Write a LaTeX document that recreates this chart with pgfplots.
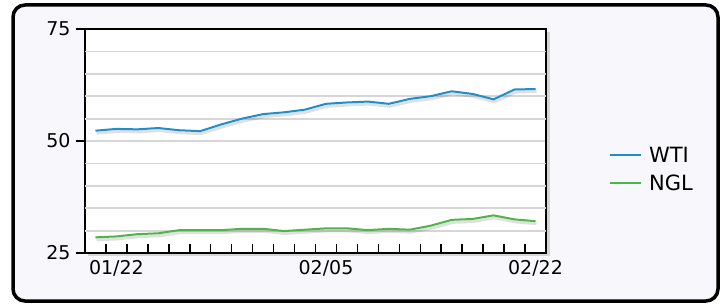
\documentclass[border=0pt]{standalone}
\usepackage{pgfplots}
\pgfplotsset{compat=1.18}
\usepackage{pgfplotstable}
\usepackage{fontspec}
\setmainfont{DejaVu Sans}
\definecolor{wti}{HTML}{1E8FCD}
\definecolor{ngl}{HTML}{4DB646}
\definecolor{bg}{HTML}{F8F8FC}
\definecolor{gridc}{HTML}{D6D6D6}
\pgfplotstableread{
k wti ngl
0 52.3 28.5
1 52.7 28.7
2 52.6 29.2
3 52.9 29.4
4 52.4 30.1
5 52.2 30.1
6 53.7 30.1
7 55.0 30.4
8 56.0 30.4
9 56.4 29.9
10 57.0 30.2
11 58.3 30.5
12 58.6 30.5
13 58.8 30.1
14 58.3 30.4
15 59.4 30.2
16 60.0 31.1
17 61.1 32.4
18 60.5 32.6
19 59.3 33.4
20 61.5 32.5
21 61.6 32.1
}\data
\begin{document}
\begin{tikzpicture}[x=1pt,y=1pt]
\useasboundingbox (0,0) rectangle (727,303);
\draw[line width=3.5pt, rounded corners=12pt, fill=bg] (13,2) rectangle (718,298);
\fill[black!16] (88,47) rectangle (550,271);
\begin{axis}[at={(85pt,50pt)}, anchor=south west, width=461pt, height=224pt, scale only axis,
  xmin=-0.5, xmax=21.5, ymin=25, ymax=75,
  axis background/.style={fill=white},
  axis line style={black, line width=2.5pt},
  font=\fontsize{19}{22}\selectfont,
  /pgf/number format/assume math mode=true,
  xtick pos=bottom, ytick pos=left,
  ytick={25,50,75}, ytick align=outside, xtick align=inside,
  major tick length=9pt,
  tick style={black, line width=1.5pt},
  ymajorgrids,
  grid style={gridc, line width=1.8pt},
  extra y ticks={30,35,40,45,55,60,65,70},
  extra y tick labels={},
  extra y tick style={major tick length=0pt, grid=major},
  xtick={0.5,1.5,...,20.5}, xticklabels={},
  extra x ticks={1,11,21},
  extra x tick labels={01/22,02/05,02/22},
  extra x tick style={major tick length=0pt, grid=none},
  xticklabel style={yshift=-4pt},
  yticklabel style={xshift=-2pt},
  legend style={at={(axis description cs:1.13,0.373)}, anchor=west, draw=none, fill=none,
    font=\fontsize{21}{25}\selectfont, row sep=7pt, nodes={inner xsep=7pt}},
  legend cell align=left,
  legend image code/.code={\draw[#1, line width=2pt] (0pt,0pt) -- (31pt,0pt);},
]
\addplot[black, opacity=0.12, line width=3pt, xshift=1pt, yshift=-2.5pt, forget plot] table[x=k, y=wti] {\data};
\addplot[black, opacity=0.12, line width=3pt, xshift=1pt, yshift=-2.5pt, forget plot] table[x=k, y=ngl] {\data};
\addplot[wti, line width=2pt] table[x=k, y=wti] {\data};
\addlegendentry{WTI}
\addplot[ngl, line width=2pt] table[x=k, y=ngl] {\data};
\addlegendentry{NGL}
\end{axis}
\end{tikzpicture}
\end{document}
